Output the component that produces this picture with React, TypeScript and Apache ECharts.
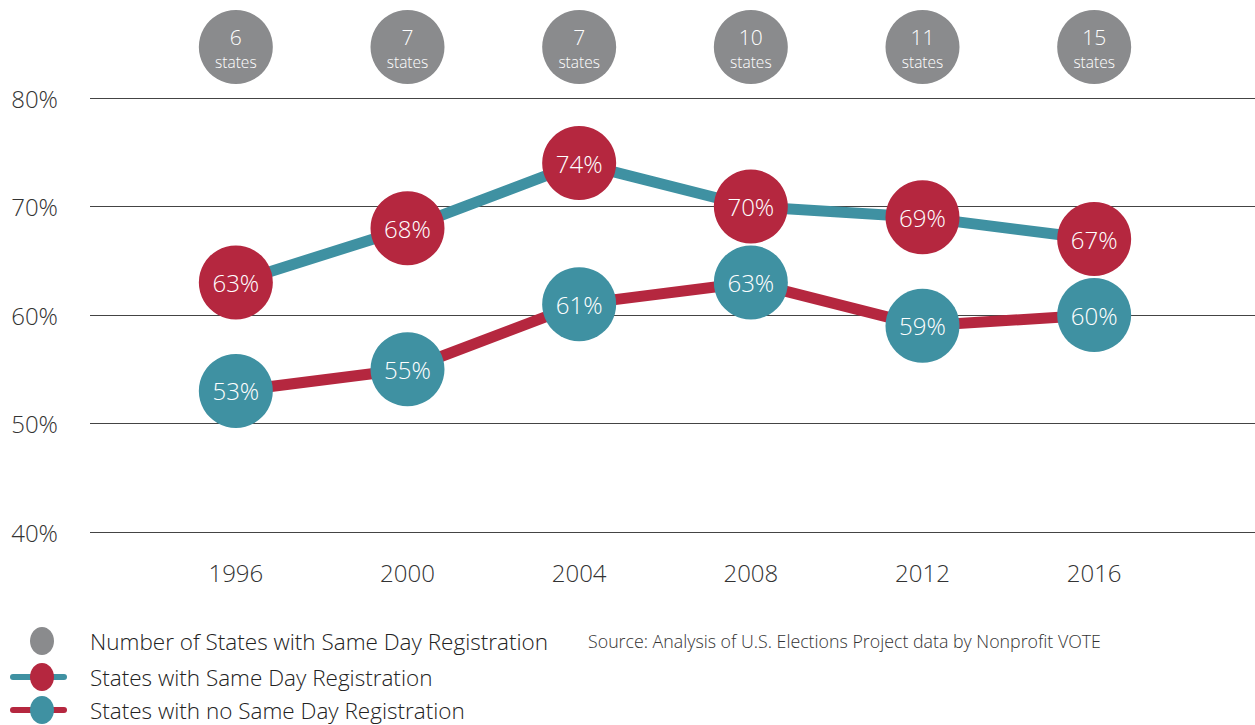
import React, { useEffect, useRef } from "react";
import * as echarts from "echarts";

const years = ["1996", "2000", "2004", "2008", "2012", "2016"];
const stateCounts = [6, 7, 7, 10, 11, 15];
const withSDR = [63, 68, 74, 70, 69, 67];
const withoutSDR = [53, 55, 61, 63, 59, 60];
const yTicks = { min: 40, max: 80, interval: 10 };

const RED = "#b5273f";
const TEAL = "#3f91a2";
const GRAY = "#8a8b8d";
const FONT = "'Open Sans', 'Noto Sans', sans-serif";

export default function App() {
  const ref = useRef<HTMLDivElement>(null);
  useEffect(() => {
    if (!ref.current) return;
    const chart = echarts.init(ref.current, null, { renderer: "svg" });
    const dataLabel = {
      show: true,
      position: "inside",
      formatter: (p: any) => `${p.value}%`,
      color: "#fff",
      fontSize: 24,
      fontFamily: FONT,
      fontWeight: 300,
    };
    const legendText = (text: string, y: number) => ({
      type: "text",
      x: 90,
      y,
      style: { text, fontSize: 22.5, fill: "#222", verticalAlign: "middle", fontFamily: FONT, fontWeight: 300 },
    });
    chart.setOption({
      animation: false,
      backgroundColor: "#fff",
      textStyle: { fontFamily: FONT },
      grid: [
        { left: 90, right: 0, top: 98, height: 434 },
        { left: 150, right: 75, top: 98, height: 434 },
        { left: 150, right: 75, top: 10, height: 74 },
      ],
      xAxis: [
        { gridIndex: 0, type: "value", show: false, min: 0, max: 1 },
        {
          gridIndex: 1,
          type: "category",
          data: years,
          axisLine: { show: false },
          axisTick: { show: false },
          axisLabel: { fontSize: 24, color: "#333", margin: 28, fontFamily: FONT, fontWeight: 300 },
        },
        { gridIndex: 2, type: "category", data: years, show: false },
      ],
      yAxis: [
        {
          gridIndex: 0,
          type: "value",
          min: yTicks.min,
          max: yTicks.max,
          interval: yTicks.interval,
          axisLine: { show: false },
          axisTick: { show: false },
          axisLabel: {
            formatter: "{value}%",
            fontSize: 24,
            color: "#333",
            margin: 32,
            fontFamily: FONT,
            fontWeight: 300,
          },
          splitLine: { lineStyle: { color: "#444", width: 1 } },
        },
        { gridIndex: 1, type: "value", min: yTicks.min, max: yTicks.max, show: false },
        { gridIndex: 2, type: "category", data: ["Number of States"], show: false },
      ],
      series: [
        {
          name: "Number of States with Same Day Registration",
          type: "scatter",
          xAxisIndex: 2,
          yAxisIndex: 2,
          symbol: "circle",
          symbolSize: 74,
          itemStyle: { color: GRAY, opacity: 1 },
          data: years.map((y, i) => [y, "Number of States", stateCounts[i]]),
          encode: { x: 0, y: 1 },
          label: {
            show: true,
            position: "inside",
            offset: [0, 2],
            formatter: (p: any) => `{n|${p.value[2]}}\n{s|states}`,
            rich: {
              n: { fontSize: 21, lineHeight: 25, color: "#fff", fontFamily: FONT, fontWeight: 300, align: "center" },
              s: { fontSize: 15.5, lineHeight: 25, color: "#fff", fontFamily: FONT, fontWeight: 300, align: "center" },
            },
          },
        },
        {
          name: "States with Same Day Registration",
          type: "line",
          xAxisIndex: 1,
          yAxisIndex: 1,
          data: withSDR,
          symbol: "circle",
          symbolSize: 74,
          lineStyle: { color: TEAL, width: 11 },
          itemStyle: { color: RED, borderWidth: 0 },
          label: dataLabel,
          z: 3,
        },
        {
          name: "States with no Same Day Registration",
          type: "line",
          xAxisIndex: 1,
          yAxisIndex: 1,
          data: withoutSDR,
          symbol: "circle",
          symbolSize: 74,
          lineStyle: { color: RED, width: 11 },
          itemStyle: { color: TEAL, borderWidth: 0 },
          label: dataLabel,
          z: 2,
        },
      ],
      graphic: [
        { type: "ellipse", shape: { cx: 42, cy: 641, rx: 12, ry: 14 }, style: { fill: GRAY } },
        { type: "line", shape: { x1: 13, y1: 677, x2: 64, y2: 677 }, style: { stroke: TEAL, lineWidth: 6, lineCap: "round" } },
        { type: "ellipse", shape: { cx: 42, cy: 677, rx: 12, ry: 14 }, style: { fill: RED } },
        { type: "line", shape: { x1: 13, y1: 710, x2: 64, y2: 710 }, style: { stroke: RED, lineWidth: 6, lineCap: "round" } },
        { type: "ellipse", shape: { cx: 42, cy: 710, rx: 12, ry: 14 }, style: { fill: TEAL } },
        legendText("Number of States with Same Day Registration", 641),
        legendText("States with Same Day Registration", 677),
        legendText("States with no Same Day Registration", 710),
        {
          type: "text",
          x: 588,
          y: 641,
          style: { text: "Source: Analysis of U.S. Elections Project data by Nonprofit VOTE", fontSize: 17.8, fill: "#333", verticalAlign: "middle", fontFamily: FONT, fontWeight: 300 },
        },
      ],
    });
    return () => chart.dispose();
  }, []);
  return <div ref={ref} style={{ position: "fixed", left: 0, top: 0, width: 1255, height: 725 }} />;
}
